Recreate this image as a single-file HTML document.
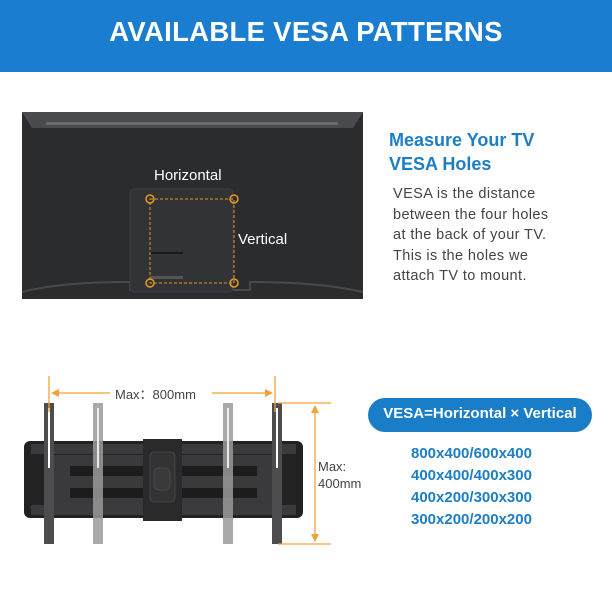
<!DOCTYPE html>
<html><head><style>
body{margin:0;width:612px;height:612px;background:#fff;position:relative;overflow:hidden;font-family:"Liberation Sans",sans-serif}
.a{position:absolute;white-space:nowrap}
</style></head><body>
<div class="a" style="left:0;top:0;width:612px;height:72px;background:#1a7dd0"></div>
<div class="a" style="left:0;top:16px;width:612px;text-align:center;color:#fff;font-size:27.5px;font-weight:bold;letter-spacing:0.3px">AVAILABLE VESA PATTERNS</div>

<svg class="a" style="left:0;top:0" width="612" height="612">
<rect x="22" y="112" width="341" height="187" fill="#2b2c2e"/>
<polygon points="22,112 363,112 353,128 32,128" fill="#4a4b4e"/>
<rect x="46" y="122" width="292" height="3" fill="#6a6b6e"/>
<path d="M22,292 Q60,282 130,282 L130,290 L250,290 L250,282 Q320,282 363,292" stroke="#48494c" stroke-width="2" fill="none"/>
<rect x="130" y="189" width="103" height="103" rx="4" fill="#323336" stroke="#3d3e41"/>
<rect x="150" y="252" width="33" height="2" fill="#1a1a1a"/>
<rect x="150" y="276" width="33" height="3" fill="#555"/>
<rect x="150" y="199" width="84" height="84" fill="none" stroke="#e89a1e" stroke-width="1" stroke-dasharray="3,2"/>
<g fill="none" stroke="#e89a1e" stroke-width="1.5">
<circle cx="150" cy="199" r="4"/><circle cx="234" cy="199" r="4"/><circle cx="150" cy="283" r="4"/><circle cx="234" cy="283" r="4"/></g>
<rect x="24" y="441" width="279" height="77" rx="6" fill="#222"/>
<rect x="50" y="455" width="226" height="50" fill="#3a3a3c"/>
<rect x="70" y="466" width="187" height="10" fill="#1c1c1c"/>
<rect x="70" y="488" width="187" height="10" fill="#1c1c1c"/>
<rect x="31" y="444" width="265" height="10" fill="#3b3b3d"/>
<rect x="31" y="505" width="265" height="10" fill="#3b3b3d"/>
<rect x="143" y="439" width="39" height="82" fill="#2a2a2c"/>
<rect x="150" y="452" width="25" height="50" rx="4" fill="#333" stroke="#555" stroke-width="0.6"/>
<rect x="154" y="468" width="16" height="22" rx="5" fill="#3a3a3c" stroke="#555" stroke-width="0.6"/>
<g fill="#4d4d4f"><rect x="44" y="403" width="10" height="141"/><rect x="272" y="403" width="10" height="141"/></g>
<g fill="#9a9a9a" opacity="0.85"><rect x="93" y="403" width="10" height="141"/><rect x="223" y="403" width="10" height="141"/></g>
<g fill="#fff"><rect x="48" y="408" width="2" height="60"/><rect x="276" y="408" width="2" height="60"/><rect x="97" y="408" width="2" height="60" opacity=".8"/><rect x="227" y="408" width="2" height="60" opacity=".8"/></g>
<g stroke="#f0a23a" stroke-width="1.3" fill="#f0a23a">
<line x1="49" y1="376" x2="49" y2="412"/><line x1="275" y1="376" x2="275" y2="412"/>
<line x1="56" y1="393" x2="110" y2="393"/><line x1="212" y1="393" x2="268" y2="393"/>
<polygon points="51,393 59,389 59,397" stroke="none"/><polygon points="273,393 265,389 265,397" stroke="none"/>
<line x1="278" y1="403" x2="331" y2="403"/><line x1="278" y1="544" x2="331" y2="544"/>
<line x1="315" y1="412" x2="315" y2="535"/>
<polygon points="315,405 311,413 319,413" stroke="none"/><polygon points="315,542 311,534 319,534" stroke="none"/>
</g>
<rect x="368" y="398" width="224" height="34" rx="17" fill="#1a7dc8"/>
</svg>

<div class="a" style="left:154px;top:167px;color:#fff;font-size:15px">Horizontal</div>
<div class="a" style="left:238px;top:231px;color:#fff;font-size:15px">Vertical</div>
<div class="a" style="left:115px;top:384px;color:#444;font-size:13px">Max：800mm</div>
<div class="a" style="left:318px;top:458px;color:#444;font-size:13px;line-height:17px">Max:<br>400mm</div>

<div class="a" style="left:389px;top:128px;color:#1c7ec4;font-size:18px;font-weight:bold;line-height:24px">Measure Your TV<br>VESA Holes</div>
<div class="a" style="left:393px;top:184px;color:#444;font-size:14.5px;line-height:20.5px;letter-spacing:0.4px">VESA is the distance<br>between the four holes<br>at the back of your TV.<br>This is the holes we<br>attach TV to mount.</div>
<div class="a" style="left:368px;top:405px;width:224px;text-align:center;color:#fff;font-size:15px;font-weight:bold">VESA=Horizontal × Vertical</div>
<div class="a" style="left:411px;top:443px;color:#1c7ec4;font-size:15px;font-weight:bold;line-height:22px">800x400/600x400<br>400x400/400x300<br>400x200/300x300<br>300x200/200x200</div>
</body></html>
